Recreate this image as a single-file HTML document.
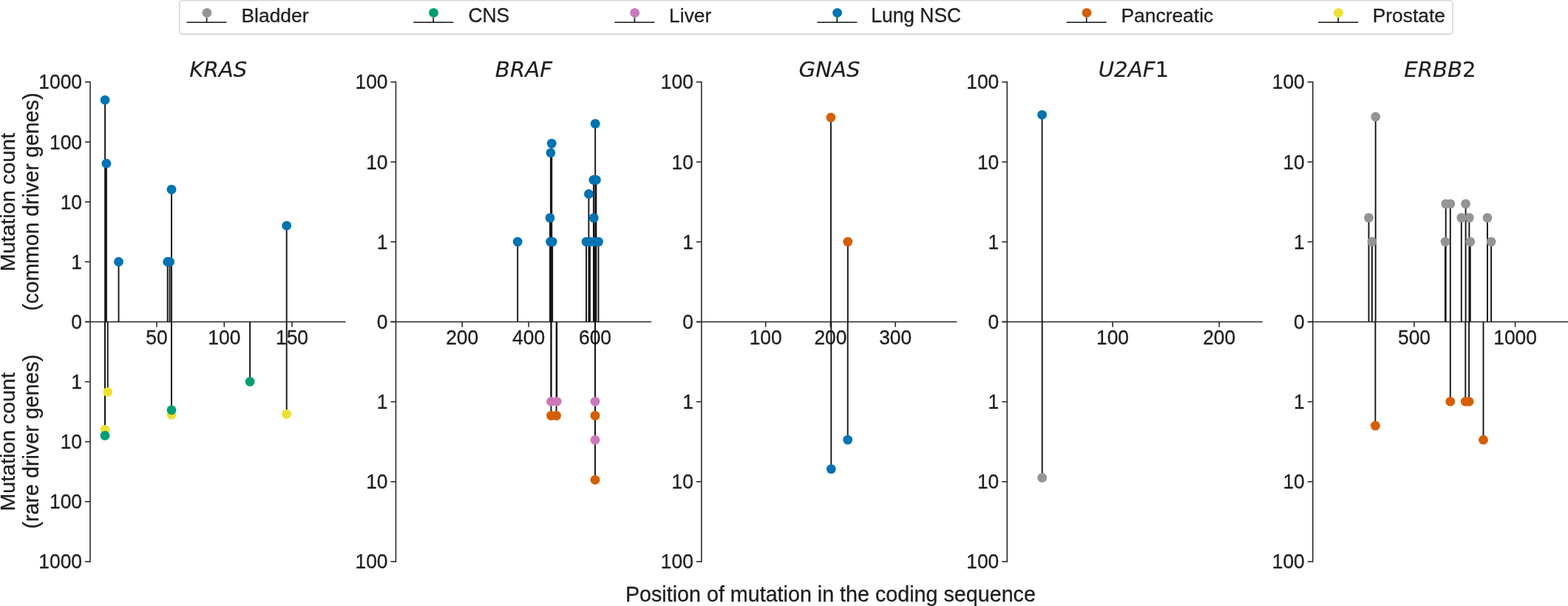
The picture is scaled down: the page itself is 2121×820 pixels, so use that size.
<!DOCTYPE html>
<html><head><meta charset="utf-8"><title>Mutation lollipop plots</title>
<style>
html,body{margin:0;padding:0;background:#fff;}
body{width:2121px;height:820px;overflow:hidden;}
svg{display:block;}
.t{font-family:"Liberation Sans",Arial,sans-serif;fill:#1e1e1e;stroke:#1e1e1e;stroke-width:0.28px;stroke-linejoin:round;}
.ti{font-family:"DejaVu Sans","Liberation Sans",sans-serif;font-style:oblique;fill:#1e1e1e;stroke:#1e1e1e;stroke-width:0.15px;}
</style></head>
<body>
<svg width="2121" height="820" viewBox="0 0 2121 820">
<rect width="2121" height="820" fill="#fff"/>
<rect x="242.8" y="0.6" width="1722.3" height="45.7" rx="4.5" ry="4.5" fill="#fff" stroke="#d0d0d0" stroke-width="1.4"/>
<line x1="252.6" y1="30.2" x2="306.6" y2="30.2" stroke="#141414" stroke-width="1.6"/>
<line x1="279.6" y1="23.5" x2="279.6" y2="30.2" stroke="#141414" stroke-width="1.6"/>
<circle cx="279.9" cy="17.3" r="6.4" fill="#949494"/>
<text transform="translate(326.5,30.3) scale(1,1.0)" font-size="26.4" class="t">Bladder</text>
<line x1="559.2" y1="30.2" x2="613.2" y2="30.2" stroke="#141414" stroke-width="1.6"/>
<line x1="586.2" y1="23.5" x2="586.2" y2="30.2" stroke="#141414" stroke-width="1.6"/>
<circle cx="586.5" cy="17.3" r="6.4" fill="#029E73"/>
<text transform="translate(633.5,30.3) scale(1,1.04)" font-size="26.4" class="t">CNS</text>
<line x1="831.4" y1="30.2" x2="885.4" y2="30.2" stroke="#141414" stroke-width="1.6"/>
<line x1="858.4" y1="23.5" x2="858.4" y2="30.2" stroke="#141414" stroke-width="1.6"/>
<circle cx="858.6999999999999" cy="17.3" r="6.4" fill="#CC78BC"/>
<text transform="translate(905.1,30.3) scale(1,1.0)" font-size="26.4" class="t">Liver</text>
<line x1="1105.3" y1="30.2" x2="1159.3" y2="30.2" stroke="#141414" stroke-width="1.6"/>
<line x1="1132.3" y1="23.5" x2="1132.3" y2="30.2" stroke="#141414" stroke-width="1.6"/>
<circle cx="1132.6" cy="17.3" r="6.4" fill="#0173B2"/>
<text transform="translate(1178.3,30.3) scale(1,1.02)" font-size="26.4" class="t">Lung NSC</text>
<line x1="1442.7" y1="30.2" x2="1496.7" y2="30.2" stroke="#141414" stroke-width="1.6"/>
<line x1="1469.7" y1="23.5" x2="1469.7" y2="30.2" stroke="#141414" stroke-width="1.6"/>
<circle cx="1470.0" cy="17.3" r="6.4" fill="#D55E00"/>
<text transform="translate(1516.5,30.3) scale(1,1.0)" font-size="26.4" class="t">Pancreatic</text>
<line x1="1783.2" y1="30.2" x2="1837.2" y2="30.2" stroke="#141414" stroke-width="1.6"/>
<line x1="1810.2" y1="23.5" x2="1810.2" y2="30.2" stroke="#141414" stroke-width="1.6"/>
<circle cx="1810.5" cy="17.3" r="6.4" fill="#ECE133"/>
<text transform="translate(1856.7,30.3) scale(1,1.0)" font-size="26.4" class="t">Prostate</text>
<line x1="122.0" y1="111.0" x2="122.0" y2="759.9" stroke="#262626" stroke-width="1.55" stroke-linecap="square"/>
<line x1="115.0" y1="435.5" x2="467.5" y2="435.5" stroke="#262626" stroke-width="1.55"/>
<line x1="115.0" y1="111.00" x2="122.0" y2="111.00" stroke="#262626" stroke-width="1.55"/>
<text transform="translate(111.0,120.45) scale(1,1.04)" font-size="26.4" class="t" text-anchor="end">1000</text>
<line x1="115.0" y1="192.11" x2="122.0" y2="192.11" stroke="#262626" stroke-width="1.55"/>
<text transform="translate(111.0,201.56) scale(1,1.04)" font-size="26.4" class="t" text-anchor="end">100</text>
<line x1="115.0" y1="273.23" x2="122.0" y2="273.23" stroke="#262626" stroke-width="1.55"/>
<text transform="translate(111.0,282.68) scale(1,1.04)" font-size="26.4" class="t" text-anchor="end">10</text>
<line x1="115.0" y1="354.34" x2="122.0" y2="354.34" stroke="#262626" stroke-width="1.55"/>
<text transform="translate(111.0,363.79) scale(1,1.04)" font-size="26.4" class="t" text-anchor="end">1</text>
<line x1="115.0" y1="435.45" x2="122.0" y2="435.45" stroke="#262626" stroke-width="1.55"/>
<text transform="translate(111.0,444.90) scale(1,1.04)" font-size="26.4" class="t" text-anchor="end">0</text>
<line x1="115.0" y1="516.56" x2="122.0" y2="516.56" stroke="#262626" stroke-width="1.55"/>
<text transform="translate(111.0,526.01) scale(1,1.04)" font-size="26.4" class="t" text-anchor="end">1</text>
<line x1="115.0" y1="597.67" x2="122.0" y2="597.67" stroke="#262626" stroke-width="1.55"/>
<text transform="translate(111.0,607.12) scale(1,1.04)" font-size="26.4" class="t" text-anchor="end">10</text>
<line x1="115.0" y1="678.79" x2="122.0" y2="678.79" stroke="#262626" stroke-width="1.55"/>
<text transform="translate(111.0,688.24) scale(1,1.04)" font-size="26.4" class="t" text-anchor="end">100</text>
<line x1="115.0" y1="759.90" x2="122.0" y2="759.90" stroke="#262626" stroke-width="1.55"/>
<text transform="translate(111.0,769.35) scale(1,1.04)" font-size="26.4" class="t" text-anchor="end">1000</text>
<line x1="212.0" y1="435.5" x2="212.0" y2="442.5" stroke="#262626" stroke-width="1.55"/>
<text transform="translate(212.0,465.6) scale(1,1.04)" font-size="26.4" class="t" text-anchor="middle">50</text>
<line x1="303.3" y1="435.5" x2="303.3" y2="442.5" stroke="#262626" stroke-width="1.55"/>
<text transform="translate(303.3,465.6) scale(1,1.04)" font-size="26.4" class="t" text-anchor="middle">100</text>
<line x1="395.0" y1="435.5" x2="395.0" y2="442.5" stroke="#262626" stroke-width="1.55"/>
<text transform="translate(395.0,465.6) scale(1,1.04)" font-size="26.4" class="t" text-anchor="middle">150</text>
<line x1="535.45" y1="111.0" x2="535.45" y2="759.9" stroke="#262626" stroke-width="1.55" stroke-linecap="square"/>
<line x1="528.45" y1="435.5" x2="880.95" y2="435.5" stroke="#262626" stroke-width="1.55"/>
<line x1="528.45" y1="111.00" x2="535.45" y2="111.00" stroke="#262626" stroke-width="1.55"/>
<text transform="translate(524.5,120.45) scale(1,1.04)" font-size="26.4" class="t" text-anchor="end">100</text>
<line x1="528.45" y1="219.15" x2="535.45" y2="219.15" stroke="#262626" stroke-width="1.55"/>
<text transform="translate(524.5,228.60) scale(1,1.04)" font-size="26.4" class="t" text-anchor="end">10</text>
<line x1="528.45" y1="327.30" x2="535.45" y2="327.30" stroke="#262626" stroke-width="1.55"/>
<text transform="translate(524.5,336.75) scale(1,1.04)" font-size="26.4" class="t" text-anchor="end">1</text>
<line x1="528.45" y1="435.45" x2="535.45" y2="435.45" stroke="#262626" stroke-width="1.55"/>
<text transform="translate(524.5,444.90) scale(1,1.04)" font-size="26.4" class="t" text-anchor="end">0</text>
<line x1="528.45" y1="543.60" x2="535.45" y2="543.60" stroke="#262626" stroke-width="1.55"/>
<text transform="translate(524.5,553.05) scale(1,1.04)" font-size="26.4" class="t" text-anchor="end">1</text>
<line x1="528.45" y1="651.75" x2="535.45" y2="651.75" stroke="#262626" stroke-width="1.55"/>
<text transform="translate(524.5,661.20) scale(1,1.04)" font-size="26.4" class="t" text-anchor="end">10</text>
<line x1="528.45" y1="759.90" x2="535.45" y2="759.90" stroke="#262626" stroke-width="1.55"/>
<text transform="translate(524.5,769.35) scale(1,1.04)" font-size="26.4" class="t" text-anchor="end">100</text>
<line x1="625.2" y1="435.5" x2="625.2" y2="442.5" stroke="#262626" stroke-width="1.55"/>
<text transform="translate(625.2,465.6) scale(1,1.04)" font-size="26.4" class="t" text-anchor="middle">200</text>
<line x1="715.1" y1="435.5" x2="715.1" y2="442.5" stroke="#262626" stroke-width="1.55"/>
<text transform="translate(715.1,465.6) scale(1,1.04)" font-size="26.4" class="t" text-anchor="middle">400</text>
<line x1="805.0" y1="435.5" x2="805.0" y2="442.5" stroke="#262626" stroke-width="1.55"/>
<text transform="translate(805.0,465.6) scale(1,1.04)" font-size="26.4" class="t" text-anchor="middle">600</text>
<line x1="948.9" y1="111.0" x2="948.9" y2="759.9" stroke="#262626" stroke-width="1.55" stroke-linecap="square"/>
<line x1="941.9" y1="435.5" x2="1294.4" y2="435.5" stroke="#262626" stroke-width="1.55"/>
<line x1="941.9" y1="111.00" x2="948.9" y2="111.00" stroke="#262626" stroke-width="1.55"/>
<text transform="translate(937.9,120.45) scale(1,1.04)" font-size="26.4" class="t" text-anchor="end">100</text>
<line x1="941.9" y1="219.15" x2="948.9" y2="219.15" stroke="#262626" stroke-width="1.55"/>
<text transform="translate(937.9,228.60) scale(1,1.04)" font-size="26.4" class="t" text-anchor="end">10</text>
<line x1="941.9" y1="327.30" x2="948.9" y2="327.30" stroke="#262626" stroke-width="1.55"/>
<text transform="translate(937.9,336.75) scale(1,1.04)" font-size="26.4" class="t" text-anchor="end">1</text>
<line x1="941.9" y1="435.45" x2="948.9" y2="435.45" stroke="#262626" stroke-width="1.55"/>
<text transform="translate(937.9,444.90) scale(1,1.04)" font-size="26.4" class="t" text-anchor="end">0</text>
<line x1="941.9" y1="543.60" x2="948.9" y2="543.60" stroke="#262626" stroke-width="1.55"/>
<text transform="translate(937.9,553.05) scale(1,1.04)" font-size="26.4" class="t" text-anchor="end">1</text>
<line x1="941.9" y1="651.75" x2="948.9" y2="651.75" stroke="#262626" stroke-width="1.55"/>
<text transform="translate(937.9,661.20) scale(1,1.04)" font-size="26.4" class="t" text-anchor="end">10</text>
<line x1="941.9" y1="759.90" x2="948.9" y2="759.90" stroke="#262626" stroke-width="1.55"/>
<text transform="translate(937.9,769.35) scale(1,1.04)" font-size="26.4" class="t" text-anchor="end">100</text>
<line x1="1035.7" y1="435.5" x2="1035.7" y2="442.5" stroke="#262626" stroke-width="1.55"/>
<text transform="translate(1035.7,465.6) scale(1,1.04)" font-size="26.4" class="t" text-anchor="middle">100</text>
<line x1="1123.4" y1="435.5" x2="1123.4" y2="442.5" stroke="#262626" stroke-width="1.55"/>
<text transform="translate(1123.4,465.6) scale(1,1.04)" font-size="26.4" class="t" text-anchor="middle">200</text>
<line x1="1211.2" y1="435.5" x2="1211.2" y2="442.5" stroke="#262626" stroke-width="1.55"/>
<text transform="translate(1211.2,465.6) scale(1,1.04)" font-size="26.4" class="t" text-anchor="middle">300</text>
<line x1="1362.3" y1="111.0" x2="1362.3" y2="759.9" stroke="#262626" stroke-width="1.55" stroke-linecap="square"/>
<line x1="1355.3" y1="435.5" x2="1707.8" y2="435.5" stroke="#262626" stroke-width="1.55"/>
<line x1="1355.3" y1="111.00" x2="1362.3" y2="111.00" stroke="#262626" stroke-width="1.55"/>
<text transform="translate(1351.3,120.45) scale(1,1.04)" font-size="26.4" class="t" text-anchor="end">100</text>
<line x1="1355.3" y1="219.15" x2="1362.3" y2="219.15" stroke="#262626" stroke-width="1.55"/>
<text transform="translate(1351.3,228.60) scale(1,1.04)" font-size="26.4" class="t" text-anchor="end">10</text>
<line x1="1355.3" y1="327.30" x2="1362.3" y2="327.30" stroke="#262626" stroke-width="1.55"/>
<text transform="translate(1351.3,336.75) scale(1,1.04)" font-size="26.4" class="t" text-anchor="end">1</text>
<line x1="1355.3" y1="435.45" x2="1362.3" y2="435.45" stroke="#262626" stroke-width="1.55"/>
<text transform="translate(1351.3,444.90) scale(1,1.04)" font-size="26.4" class="t" text-anchor="end">0</text>
<line x1="1355.3" y1="543.60" x2="1362.3" y2="543.60" stroke="#262626" stroke-width="1.55"/>
<text transform="translate(1351.3,553.05) scale(1,1.04)" font-size="26.4" class="t" text-anchor="end">1</text>
<line x1="1355.3" y1="651.75" x2="1362.3" y2="651.75" stroke="#262626" stroke-width="1.55"/>
<text transform="translate(1351.3,661.20) scale(1,1.04)" font-size="26.4" class="t" text-anchor="end">10</text>
<line x1="1355.3" y1="759.90" x2="1362.3" y2="759.90" stroke="#262626" stroke-width="1.55"/>
<text transform="translate(1351.3,769.35) scale(1,1.04)" font-size="26.4" class="t" text-anchor="end">100</text>
<line x1="1505.0" y1="435.5" x2="1505.0" y2="442.5" stroke="#262626" stroke-width="1.55"/>
<text transform="translate(1505.0,465.6) scale(1,1.04)" font-size="26.4" class="t" text-anchor="middle">100</text>
<line x1="1649.2" y1="435.5" x2="1649.2" y2="442.5" stroke="#262626" stroke-width="1.55"/>
<text transform="translate(1649.2,465.6) scale(1,1.04)" font-size="26.4" class="t" text-anchor="middle">200</text>
<line x1="1775.8" y1="111.0" x2="1775.8" y2="759.9" stroke="#262626" stroke-width="1.55" stroke-linecap="square"/>
<line x1="1768.8" y1="435.5" x2="2121.3" y2="435.5" stroke="#262626" stroke-width="1.55"/>
<line x1="1768.8" y1="111.00" x2="1775.8" y2="111.00" stroke="#262626" stroke-width="1.55"/>
<text transform="translate(1764.8,120.45) scale(1,1.04)" font-size="26.4" class="t" text-anchor="end">100</text>
<line x1="1768.8" y1="219.15" x2="1775.8" y2="219.15" stroke="#262626" stroke-width="1.55"/>
<text transform="translate(1764.8,228.60) scale(1,1.04)" font-size="26.4" class="t" text-anchor="end">10</text>
<line x1="1768.8" y1="327.30" x2="1775.8" y2="327.30" stroke="#262626" stroke-width="1.55"/>
<text transform="translate(1764.8,336.75) scale(1,1.04)" font-size="26.4" class="t" text-anchor="end">1</text>
<line x1="1768.8" y1="435.45" x2="1775.8" y2="435.45" stroke="#262626" stroke-width="1.55"/>
<text transform="translate(1764.8,444.90) scale(1,1.04)" font-size="26.4" class="t" text-anchor="end">0</text>
<line x1="1768.8" y1="543.60" x2="1775.8" y2="543.60" stroke="#262626" stroke-width="1.55"/>
<text transform="translate(1764.8,553.05) scale(1,1.04)" font-size="26.4" class="t" text-anchor="end">1</text>
<line x1="1768.8" y1="651.75" x2="1775.8" y2="651.75" stroke="#262626" stroke-width="1.55"/>
<text transform="translate(1764.8,661.20) scale(1,1.04)" font-size="26.4" class="t" text-anchor="end">10</text>
<line x1="1768.8" y1="759.90" x2="1775.8" y2="759.90" stroke="#262626" stroke-width="1.55"/>
<text transform="translate(1764.8,769.35) scale(1,1.04)" font-size="26.4" class="t" text-anchor="end">100</text>
<line x1="1913.0" y1="435.5" x2="1913.0" y2="442.5" stroke="#262626" stroke-width="1.55"/>
<text transform="translate(1913.0,465.6) scale(1,1.04)" font-size="26.4" class="t" text-anchor="middle">500</text>
<line x1="2049.6" y1="435.5" x2="2049.6" y2="442.5" stroke="#262626" stroke-width="1.55"/>
<text transform="translate(2049.6,465.6) scale(1,1.04)" font-size="26.4" class="t" text-anchor="middle">1000</text>
<text x="295.3" y="103.6" font-size="29.2" class="ti" text-anchor="middle">KRAS</text>
<text x="708.4" y="103.6" font-size="29.2" class="ti" text-anchor="middle">BRAF</text>
<text x="1122.1" y="103.6" font-size="29.2" class="ti" text-anchor="middle">GNAS</text>
<text x="1533.4" y="103.6" font-size="29.2" class="ti" text-anchor="middle">U2AF<tspan font-style="normal">1</tspan></text>
<text x="1948" y="103.6" font-size="29.2" class="ti" text-anchor="middle">ERBB<tspan font-style="normal">2</tspan></text>
<line x1="142.1" y1="435.5" x2="142.1" y2="135.3" stroke="#141414" stroke-width="1.9"/>
<line x1="143.9" y1="435.5" x2="143.9" y2="221.2" stroke="#141414" stroke-width="1.9"/>
<line x1="160.5" y1="435.5" x2="160.5" y2="354.2" stroke="#141414" stroke-width="1.9"/>
<line x1="226.7" y1="435.5" x2="226.7" y2="354.2" stroke="#141414" stroke-width="1.9"/>
<line x1="229.6" y1="435.5" x2="229.6" y2="354.2" stroke="#141414" stroke-width="1.9"/>
<line x1="232.0" y1="435.5" x2="232.0" y2="256.4" stroke="#141414" stroke-width="1.9"/>
<line x1="387.7" y1="435.5" x2="387.7" y2="305.3" stroke="#141414" stroke-width="1.9"/>
<line x1="145.7" y1="435.5" x2="145.7" y2="530.4" stroke="#141414" stroke-width="1.9"/>
<line x1="142.0" y1="435.5" x2="142.0" y2="581.3" stroke="#141414" stroke-width="1.9"/>
<line x1="142.0" y1="435.5" x2="142.0" y2="589.4" stroke="#141414" stroke-width="1.9"/>
<line x1="232.0" y1="435.5" x2="232.0" y2="561.1" stroke="#141414" stroke-width="1.9"/>
<line x1="232.0" y1="435.5" x2="232.0" y2="554.8" stroke="#141414" stroke-width="1.9"/>
<line x1="338.1" y1="435.5" x2="338.1" y2="516.4" stroke="#141414" stroke-width="1.9"/>
<line x1="387.7" y1="435.5" x2="387.7" y2="560.3" stroke="#141414" stroke-width="1.9"/>
<line x1="700.2" y1="435.5" x2="700.2" y2="327.1" stroke="#141414" stroke-width="1.9"/>
<line x1="746.3" y1="435.5" x2="746.3" y2="194.1" stroke="#141414" stroke-width="1.9"/>
<line x1="744.9" y1="435.5" x2="744.9" y2="206.8" stroke="#141414" stroke-width="1.9"/>
<line x1="744.0" y1="435.5" x2="744.0" y2="294.9" stroke="#141414" stroke-width="1.9"/>
<line x1="744.6" y1="435.5" x2="744.6" y2="327.1" stroke="#141414" stroke-width="1.9"/>
<line x1="747.2" y1="435.5" x2="747.2" y2="327.1" stroke="#141414" stroke-width="1.9"/>
<line x1="805.2" y1="435.5" x2="805.2" y2="167.4" stroke="#141414" stroke-width="1.9"/>
<line x1="802.9" y1="435.5" x2="802.9" y2="243.4" stroke="#141414" stroke-width="1.9"/>
<line x1="806.4" y1="435.5" x2="806.4" y2="243.4" stroke="#141414" stroke-width="1.9"/>
<line x1="796.4" y1="435.5" x2="796.4" y2="262.5" stroke="#141414" stroke-width="1.9"/>
<line x1="803.3" y1="435.5" x2="803.3" y2="294.9" stroke="#141414" stroke-width="1.9"/>
<line x1="793.0" y1="435.5" x2="793.0" y2="327.1" stroke="#141414" stroke-width="1.9"/>
<line x1="798.0" y1="435.5" x2="798.0" y2="327.1" stroke="#141414" stroke-width="1.9"/>
<line x1="804.5" y1="435.5" x2="804.5" y2="327.1" stroke="#141414" stroke-width="1.9"/>
<line x1="809.5" y1="435.5" x2="809.5" y2="327.1" stroke="#141414" stroke-width="1.9"/>
<line x1="745.5" y1="435.5" x2="745.5" y2="562.4" stroke="#141414" stroke-width="1.9"/>
<line x1="752.6" y1="435.5" x2="752.6" y2="562.4" stroke="#141414" stroke-width="1.9"/>
<line x1="745.5" y1="435.5" x2="745.5" y2="543.3" stroke="#141414" stroke-width="1.9"/>
<line x1="753.2" y1="435.5" x2="753.2" y2="543.3" stroke="#141414" stroke-width="1.9"/>
<line x1="805.0" y1="435.5" x2="805.0" y2="649.3" stroke="#141414" stroke-width="1.9"/>
<line x1="805.0" y1="435.5" x2="805.0" y2="595.3" stroke="#141414" stroke-width="1.9"/>
<line x1="805.0" y1="435.5" x2="805.0" y2="562.4" stroke="#141414" stroke-width="1.9"/>
<line x1="805.0" y1="435.5" x2="805.0" y2="543.3" stroke="#141414" stroke-width="1.9"/>
<line x1="1123.9" y1="435.5" x2="1123.9" y2="159.0" stroke="#141414" stroke-width="1.9"/>
<line x1="1146.8" y1="435.5" x2="1146.8" y2="327.1" stroke="#141414" stroke-width="1.9"/>
<line x1="1124.3" y1="435.5" x2="1124.3" y2="634.6" stroke="#141414" stroke-width="1.9"/>
<line x1="1146.7" y1="435.5" x2="1146.7" y2="595.1" stroke="#141414" stroke-width="1.9"/>
<line x1="1409.6" y1="435.5" x2="1409.6" y2="155.3" stroke="#141414" stroke-width="1.9"/>
<line x1="1409.7" y1="435.5" x2="1409.7" y2="646.4" stroke="#141414" stroke-width="1.9"/>
<line x1="1860.7" y1="435.5" x2="1860.7" y2="158.0" stroke="#141414" stroke-width="1.9"/>
<line x1="1851.5" y1="435.5" x2="1851.5" y2="294.6" stroke="#141414" stroke-width="1.9"/>
<line x1="1855.9" y1="435.5" x2="1855.9" y2="327.1" stroke="#141414" stroke-width="1.9"/>
<line x1="1955.7" y1="435.5" x2="1955.7" y2="275.8" stroke="#141414" stroke-width="1.9"/>
<line x1="1961.8" y1="435.5" x2="1961.8" y2="275.8" stroke="#141414" stroke-width="1.9"/>
<line x1="1955.0" y1="435.5" x2="1955.0" y2="327.1" stroke="#141414" stroke-width="1.9"/>
<line x1="1976.8" y1="435.5" x2="1976.8" y2="294.6" stroke="#141414" stroke-width="1.9"/>
<line x1="1982.6" y1="435.5" x2="1982.6" y2="275.8" stroke="#141414" stroke-width="1.9"/>
<line x1="1987.4" y1="435.5" x2="1987.4" y2="294.6" stroke="#141414" stroke-width="1.9"/>
<line x1="1988.8" y1="435.5" x2="1988.8" y2="327.1" stroke="#141414" stroke-width="1.9"/>
<line x1="2012.0" y1="435.5" x2="2012.0" y2="294.6" stroke="#141414" stroke-width="1.9"/>
<line x1="2017.1" y1="435.5" x2="2017.1" y2="327.1" stroke="#141414" stroke-width="1.9"/>
<line x1="1860.4" y1="435.5" x2="1860.4" y2="576.1" stroke="#141414" stroke-width="1.9"/>
<line x1="1961.8" y1="435.5" x2="1961.8" y2="543.3" stroke="#141414" stroke-width="1.9"/>
<line x1="1982.3" y1="435.5" x2="1982.3" y2="543.3" stroke="#141414" stroke-width="1.9"/>
<line x1="1987.1" y1="435.5" x2="1987.1" y2="543.3" stroke="#141414" stroke-width="1.9"/>
<line x1="2006.5" y1="435.5" x2="2006.5" y2="595.2" stroke="#141414" stroke-width="1.9"/>
<circle cx="142.1" cy="135.3" r="6.4" fill="#0173B2"/>
<circle cx="143.9" cy="221.2" r="6.4" fill="#0173B2"/>
<circle cx="160.5" cy="354.2" r="6.4" fill="#0173B2"/>
<circle cx="226.7" cy="354.2" r="6.4" fill="#0173B2"/>
<circle cx="229.6" cy="354.2" r="6.4" fill="#0173B2"/>
<circle cx="232.0" cy="256.4" r="6.4" fill="#0173B2"/>
<circle cx="387.7" cy="305.3" r="6.4" fill="#0173B2"/>
<circle cx="145.7" cy="530.4" r="6.4" fill="#ECE133"/>
<circle cx="142.0" cy="581.3" r="6.4" fill="#ECE133"/>
<circle cx="142.0" cy="589.4" r="6.4" fill="#029E73"/>
<circle cx="232.0" cy="561.1" r="6.4" fill="#ECE133"/>
<circle cx="232.0" cy="554.8" r="6.4" fill="#029E73"/>
<circle cx="338.1" cy="516.4" r="6.4" fill="#029E73"/>
<circle cx="387.7" cy="560.3" r="6.4" fill="#ECE133"/>
<circle cx="700.2" cy="327.1" r="6.4" fill="#0173B2"/>
<circle cx="746.3" cy="194.1" r="6.4" fill="#0173B2"/>
<circle cx="744.9" cy="206.8" r="6.4" fill="#0173B2"/>
<circle cx="744.0" cy="294.9" r="6.4" fill="#0173B2"/>
<circle cx="744.6" cy="327.1" r="6.4" fill="#0173B2"/>
<circle cx="747.2" cy="327.1" r="6.4" fill="#0173B2"/>
<circle cx="805.2" cy="167.4" r="6.4" fill="#0173B2"/>
<circle cx="802.9" cy="243.4" r="6.4" fill="#0173B2"/>
<circle cx="806.4" cy="243.4" r="6.4" fill="#0173B2"/>
<circle cx="796.4" cy="262.5" r="6.4" fill="#0173B2"/>
<circle cx="803.3" cy="294.9" r="6.4" fill="#0173B2"/>
<circle cx="793.0" cy="327.1" r="6.4" fill="#0173B2"/>
<circle cx="798.0" cy="327.1" r="6.4" fill="#0173B2"/>
<circle cx="804.5" cy="327.1" r="6.4" fill="#0173B2"/>
<circle cx="809.5" cy="327.1" r="6.4" fill="#0173B2"/>
<circle cx="745.5" cy="562.4" r="6.4" fill="#D55E00"/>
<circle cx="752.6" cy="562.4" r="6.4" fill="#D55E00"/>
<circle cx="745.5" cy="543.3" r="6.4" fill="#CC78BC"/>
<circle cx="753.2" cy="543.3" r="6.4" fill="#CC78BC"/>
<circle cx="805.0" cy="649.3" r="6.4" fill="#D55E00"/>
<circle cx="805.0" cy="595.3" r="6.4" fill="#CC78BC"/>
<circle cx="805.0" cy="562.4" r="6.4" fill="#D55E00"/>
<circle cx="805.0" cy="543.3" r="6.4" fill="#CC78BC"/>
<circle cx="1123.9" cy="159.0" r="6.4" fill="#D55E00"/>
<circle cx="1146.8" cy="327.1" r="6.4" fill="#D55E00"/>
<circle cx="1124.3" cy="634.6" r="6.4" fill="#0173B2"/>
<circle cx="1146.7" cy="595.1" r="6.4" fill="#0173B2"/>
<circle cx="1409.6" cy="155.3" r="6.4" fill="#0173B2"/>
<circle cx="1409.7" cy="646.4" r="6.4" fill="#949494"/>
<circle cx="1860.7" cy="158.0" r="6.4" fill="#949494"/>
<circle cx="1851.5" cy="294.6" r="6.4" fill="#949494"/>
<circle cx="1855.9" cy="327.1" r="6.4" fill="#949494"/>
<circle cx="1955.7" cy="275.8" r="6.4" fill="#949494"/>
<circle cx="1961.8" cy="275.8" r="6.4" fill="#949494"/>
<circle cx="1955.0" cy="327.1" r="6.4" fill="#949494"/>
<circle cx="1976.8" cy="294.6" r="6.4" fill="#949494"/>
<circle cx="1982.6" cy="275.8" r="6.4" fill="#949494"/>
<circle cx="1987.4" cy="294.6" r="6.4" fill="#949494"/>
<circle cx="1988.8" cy="327.1" r="6.4" fill="#949494"/>
<circle cx="2012.0" cy="294.6" r="6.4" fill="#949494"/>
<circle cx="2017.1" cy="327.1" r="6.4" fill="#949494"/>
<circle cx="1860.4" cy="576.1" r="6.4" fill="#D55E00"/>
<circle cx="1961.8" cy="543.3" r="6.4" fill="#D55E00"/>
<circle cx="1982.3" cy="543.3" r="6.4" fill="#D55E00"/>
<circle cx="1987.1" cy="543.3" r="6.4" fill="#D55E00"/>
<circle cx="2006.5" cy="595.2" r="6.4" fill="#D55E00"/>
<text transform="translate(20.4,273.5) rotate(-90)" font-size="28.55" class="t" text-anchor="middle">Mutation count</text>
<text transform="translate(52.4,273) rotate(-90)" font-size="28.7" class="t" text-anchor="middle">(common driver genes)</text>
<text transform="translate(20.4,597.8) rotate(-90)" font-size="28.55" class="t" text-anchor="middle">Mutation count</text>
<text transform="translate(52.4,597.6) rotate(-90)" font-size="28.7" class="t" text-anchor="middle">(rare driver genes)</text>
<text transform="translate(1123.4,814.0)" font-size="28.7" class="t" text-anchor="middle">Position of mutation in the coding sequence</text>
</svg>
</body></html>
